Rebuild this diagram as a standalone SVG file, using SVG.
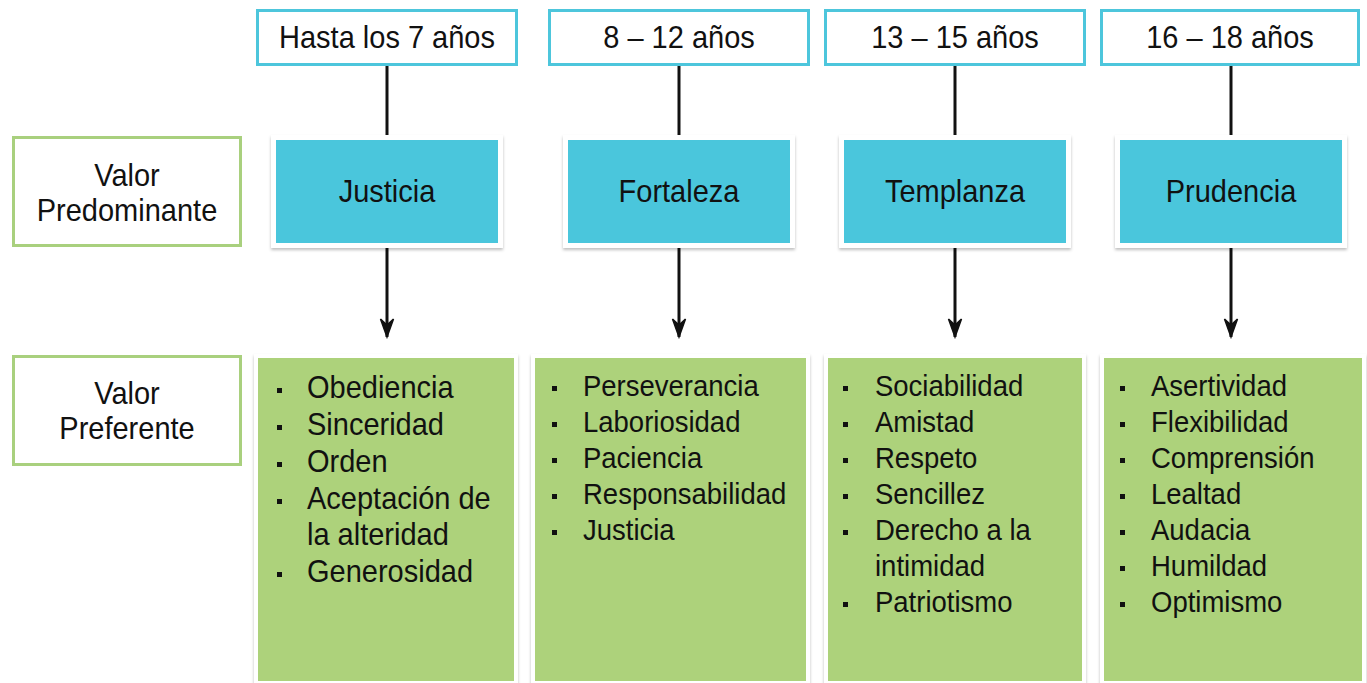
<svg xmlns="http://www.w3.org/2000/svg" width="1367" height="683" viewBox="0 0 1367 683">
<style>
  text { font-family: "Liberation Sans", Arial, sans-serif; fill: #111; }
  .age { fill: #fff; stroke: #4DC6DC; stroke-width: 3; }
  .lab { fill: #fff; stroke: #A9D07E; stroke-width: 3; }
  .frame { fill: #fff; filter: url(#sh); }
  .cyan { fill: #4AC6DC; }
  .green { fill: #ADD27B; }
  .t29 { font-size: 29px; text-anchor: middle; }
  .li1 { font-size: 29px; }
  .li { font-size: 27.5px; }
  .bul { fill: #111; }
  .conn { stroke: #111; stroke-width: 3; fill: none; }
</style>
<defs>
  <filter id="sh" x="-5%" y="-5%" width="110%" height="112%">
    <feDropShadow dx="0" dy="2" stdDeviation="1.5" flood-color="#000" flood-opacity="0.25"/>
  </filter>
  <marker id="arr" markerUnits="userSpaceOnUse" markerWidth="22" markerHeight="16" refX="20" refY="8" orient="auto" viewBox="0 0 22 16">
    <path d="M20,8 L2,1.5 L8,8 L2,14.5 Z" fill="#111" stroke="#111" stroke-width="1.5" stroke-linejoin="miter"/>
  </marker>
</defs>
<rect width="1367" height="683" fill="#fff"/>

<g id="connectors">
  <line class="conn" x1="387" y1="66" x2="387" y2="136"/>
  <line class="conn" x1="679" y1="66" x2="679" y2="136"/>
  <line class="conn" x1="955" y1="66" x2="955" y2="136"/>
  <line class="conn" x1="1231" y1="66" x2="1231" y2="136"/>
  <line class="conn" x1="387" y1="248" x2="387" y2="337" marker-end="url(#arr)"/>
  <line class="conn" x1="679" y1="248" x2="679" y2="337" marker-end="url(#arr)"/>
  <line class="conn" x1="955" y1="248" x2="955" y2="337" marker-end="url(#arr)"/>
  <line class="conn" x1="1231" y1="248" x2="1231" y2="337" marker-end="url(#arr)"/>
</g>

<g id="age1"><rect class="age" x="257.5" y="10.5" width="259" height="54"/><text class="t29" transform="translate(387 48) scale(1 1.08)">Hasta los 7 años</text></g>
<g id="age2"><rect class="age" x="549.5" y="10.5" width="259" height="54"/><text class="t29" transform="translate(679 48) scale(1 1.08)">8 – 12 años</text></g>
<g id="age3"><rect class="age" x="825.5" y="10.5" width="259" height="54"/><text class="t29" transform="translate(955 48) scale(1 1.08)">13 – 15 años</text></g>
<g id="age4"><rect class="age" x="1101.5" y="10.5" width="257" height="54"/><text class="t29" transform="translate(1230 48) scale(1 1.08)">16 – 18 años</text></g>

<g id="label-predominante"><rect class="lab" x="13.5" y="137.5" width="227" height="108"/><text class="t29" transform="translate(127 186) scale(1 1.08)">Valor</text><text class="t29" transform="translate(127 221) scale(1 1.08)">Predominante</text></g>
<g id="label-preferente"><rect class="lab" x="13.5" y="356.5" width="227" height="108"/><text class="t29" transform="translate(127 404) scale(1 1.08)">Valor</text><text class="t29" transform="translate(127 439) scale(1 1.08)">Preferente</text></g>

<g id="v1"><rect class="frame" x="271" y="135" width="232" height="113"/><rect class="cyan" x="276" y="140" width="222" height="103"/><text class="t29" transform="translate(387 202) scale(1 1.08)">Justicia</text></g>
<g id="v2"><rect class="frame" x="563" y="135" width="232" height="113"/><rect class="cyan" x="568" y="140" width="222" height="103"/><text class="t29" transform="translate(679 202) scale(1 1.08)">Fortaleza</text></g>
<g id="v3"><rect class="frame" x="839" y="135" width="232" height="113"/><rect class="cyan" x="844" y="140" width="222" height="103"/><text class="t29" transform="translate(955 202) scale(1 1.08)">Templanza</text></g>
<g id="v4"><rect class="frame" x="1115" y="135" width="232" height="113"/><rect class="cyan" x="1120" y="140" width="222" height="103"/><text class="t29" transform="translate(1231 202) scale(1 1.08)">Prudencia</text></g>

<g id="p1">
  <rect class="frame" x="254" y="354" width="264" height="332"/>
  <rect class="green" x="258" y="358" width="256" height="323"/>
  <rect class="bul" x="277" y="388" width="5" height="5"/>
  <rect class="bul" x="277" y="425" width="5" height="5"/>
  <rect class="bul" x="277" y="462" width="5" height="5"/>
  <rect class="bul" x="277" y="499" width="5" height="5"/>
  <rect class="bul" x="277" y="572" width="5" height="5"/>
  <text class="li1" transform="translate(307 398) scale(1 1.08)">Obediencia</text>
  <text class="li1" transform="translate(307 435) scale(1 1.08)">Sinceridad</text>
  <text class="li1" transform="translate(307 472) scale(1 1.08)">Orden</text>
  <text class="li1" transform="translate(307 509) scale(1 1.08)">Aceptación de</text>
  <text class="li1" transform="translate(307 545) scale(1 1.08)">la alteridad</text>
  <text class="li1" transform="translate(307 582) scale(1 1.08)">Generosidad</text>
</g>
<g id="p2">
  <rect class="frame" x="531" y="354" width="279" height="332"/>
  <rect class="green" x="535" y="358" width="271" height="323"/>
  <rect class="bul" x="552" y="386" width="5" height="5"/>
  <rect class="bul" x="552" y="422" width="5" height="5"/>
  <rect class="bul" x="552" y="458" width="5" height="5"/>
  <rect class="bul" x="552" y="494" width="5" height="5"/>
  <rect class="bul" x="552" y="530" width="5" height="5"/>
  <text class="li" transform="translate(583 396) scale(1 1.08)">Perseverancia</text>
  <text class="li" transform="translate(583 432) scale(1 1.08)">Laboriosidad</text>
  <text class="li" transform="translate(583 468) scale(1 1.08)">Paciencia</text>
  <text class="li" transform="translate(583 504) scale(1 1.08)">Responsabilidad</text>
  <text class="li" transform="translate(583 540) scale(1 1.08)">Justicia</text>
</g>
<g id="p3">
  <rect class="frame" x="824" y="354" width="262" height="332"/>
  <rect class="green" x="828" y="358" width="254" height="323"/>
  <rect class="bul" x="843" y="386" width="5" height="5"/>
  <rect class="bul" x="843" y="422" width="5" height="5"/>
  <rect class="bul" x="843" y="458" width="5" height="5"/>
  <rect class="bul" x="843" y="494" width="5" height="5"/>
  <rect class="bul" x="843" y="530" width="5" height="5"/>
  <rect class="bul" x="843" y="602" width="5" height="5"/>
  <text class="li" transform="translate(875 396) scale(1 1.08)">Sociabilidad</text>
  <text class="li" transform="translate(875 432) scale(1 1.08)">Amistad</text>
  <text class="li" transform="translate(875 468) scale(1 1.08)">Respeto</text>
  <text class="li" transform="translate(875 504) scale(1 1.08)">Sencillez</text>
  <text class="li" transform="translate(875 540) scale(1 1.08)">Derecho a la</text>
  <text class="li" transform="translate(875 576) scale(1 1.08)">intimidad</text>
  <text class="li" transform="translate(875 612) scale(1 1.08)">Patriotismo</text>
</g>
<g id="p4">
  <rect class="frame" x="1100" y="354" width="266" height="332"/>
  <rect class="green" x="1104" y="358" width="258" height="323"/>
  <rect class="bul" x="1120" y="386" width="5" height="5"/>
  <rect class="bul" x="1120" y="422" width="5" height="5"/>
  <rect class="bul" x="1120" y="458" width="5" height="5"/>
  <rect class="bul" x="1120" y="494" width="5" height="5"/>
  <rect class="bul" x="1120" y="530" width="5" height="5"/>
  <rect class="bul" x="1120" y="566" width="5" height="5"/>
  <rect class="bul" x="1120" y="602" width="5" height="5"/>
  <text class="li" transform="translate(1151 396) scale(1 1.08)">Asertividad</text>
  <text class="li" transform="translate(1151 432) scale(1 1.08)">Flexibilidad</text>
  <text class="li" transform="translate(1151 468) scale(1 1.08)">Comprensión</text>
  <text class="li" transform="translate(1151 504) scale(1 1.08)">Lealtad</text>
  <text class="li" transform="translate(1151 540) scale(1 1.08)">Audacia</text>
  <text class="li" transform="translate(1151 576) scale(1 1.08)">Humildad</text>
  <text class="li" transform="translate(1151 612) scale(1 1.08)">Optimismo</text>
</g>
</svg>
